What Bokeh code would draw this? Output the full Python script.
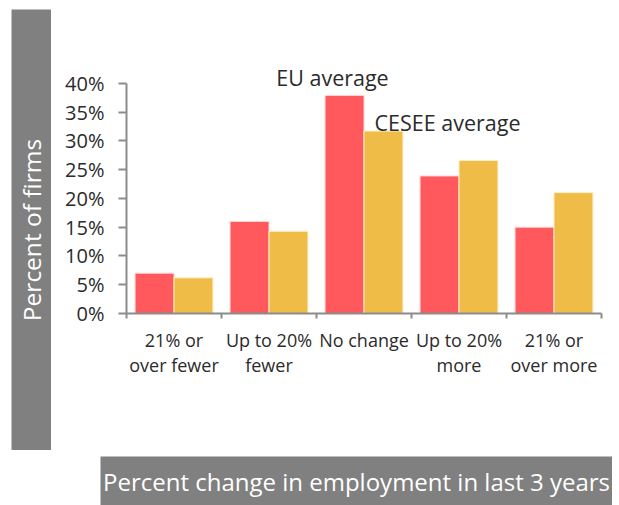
from bokeh.plotting import figure
from bokeh.layouts import row, column
from bokeh.models import (ColumnDataSource, FixedTicker, NumeralTickFormatter,
                          Range1d, Label)
from bokeh.transform import dodge
from bokeh.embed import file_html
from bokeh.resources import INLINE

categories = ["21% or\nover fewer", "Up to 20%\nfewer", "No change", "Up to 20%\nmore", "21% or\nover more"]
eu_average = [0.07, 0.16, 0.379, 0.239, 0.150]
cesee_average = [0.062, 0.143, 0.317, 0.266, 0.210]
y_ticks = [0, 0.05, 0.10, 0.15, 0.20, 0.25, 0.30, 0.35, 0.40]
y_title = "Percent of firms"
x_title = "Percent change in employment in last 3 years"
series_names = ["EU average", "CESEE average"]

FONT = "Open Sans"
GRAY = "#808080"
TXT = "#2b2b2b"
AX = "#8c8c8c"

idx = [i + 0.5 for i in range(len(categories))]
src = ColumnDataSource(dict(x=idx, eu=eu_average, cesee=cesee_average))

# ---- main chart (frame: x 126..601, y 31..313) ----
p = figure(width=560, height=455, output_backend="svg", toolbar_location=None,
           x_range=Range1d(0, len(categories)), y_range=Range1d(0, 0.49),
           min_border_left=75, min_border_right=10, min_border_top=31, min_border_bottom=142)
p.frame_align = False
p.outline_line_color = None
p.grid.grid_line_color = None

p.vbar(x=dodge("x", -0.205, range=p.x_range), top="eu", width=0.41, source=src,
       fill_color="#FF585D", line_color="#FFD6D6", line_width=1)
p.vbar(x=dodge("x", 0.205, range=p.x_range), top="cesee", width=0.41, source=src,
       fill_color="#F0BC48", line_color="#FFEFC8", line_width=1)

ya = p.yaxis[0]
ya.bounds = (0, 0.40)
ya.ticker = FixedTicker(ticks=y_ticks)
ya.formatter = NumeralTickFormatter(format="0%")
ya.axis_line_color = AX
ya.axis_line_width = 2
ya.major_tick_line_color = AX
ya.major_tick_line_width = 2
ya.major_tick_out = 8
ya.major_tick_in = 0
ya.minor_tick_line_color = None
ya.major_label_text_font = FONT
ya.major_label_text_font_size = "20px"
ya.major_label_text_color = TXT
ya.major_label_standoff = 14

xa = p.xaxis[0]
xa.ticker = FixedTicker(ticks=idx, minor_ticks=list(range(len(categories) + 1)))
xa.major_label_overrides = {v: c for v, c in zip(idx, categories)}
xa.axis_line_color = AX
xa.axis_line_width = 2
xa.major_tick_line_color = None
xa.minor_tick_line_color = AX
xa.minor_tick_line_width = 2
xa.minor_tick_out = 5
xa.minor_tick_in = 0
xa.major_label_text_font = FONT
xa.major_label_text_font_size = "18px"
xa.major_label_text_color = TXT
xa.major_label_standoff = 8
xa.major_label_text_line_height = 1.05

p.add_layout(Label(x=2.168, y=0.4104, text=series_names[0],
                   text_align="center", text_baseline="alphabetic",
                   text_font=FONT, text_font_size="21.5px", text_color=TXT))
p.add_layout(Label(x=2.611, y=0.3327, text=series_names[1],
                   text_align="left", text_baseline="alphabetic",
                   text_font=FONT, text_font_size="21.5px", text_color=TXT))


def gray_box(w, h, margin):
    f = figure(width=w, height=h, output_backend="svg", toolbar_location=None,
               x_axis_type=None, y_axis_type=None, margin=margin, min_border=0,
               x_range=Range1d(0, 1), y_range=Range1d(0, 1))
    f.frame_align = False
    f.background_fill_color = GRAY
    f.border_fill_color = GRAY
    f.outline_line_color = None
    f.grid.grid_line_color = None
    return f


# left box: x 11..51, y 9..450
left = gray_box(40, 441, (9, 0, 0, 11))
left.add_layout(Label(x=0.5, y=0.5, text=y_title, angle=90, angle_units="deg",
                      text_align="center", text_baseline="middle",
                      text_font=FONT, text_font_size="24.5px", text_color="white"))

# bottom box: x 100..612, y 456..505
bottom = gray_box(512, 49, (1, 0, 0, 100))
bottom.add_layout(Label(x=0.5, y=0.49, text=x_title,
                        text_align="center", text_baseline="middle",
                        text_font=FONT, text_font_size="24px", text_color="white"))

layout = column(row(left, p), bottom)
open("out.html", "w").write(file_html(layout, INLINE))
